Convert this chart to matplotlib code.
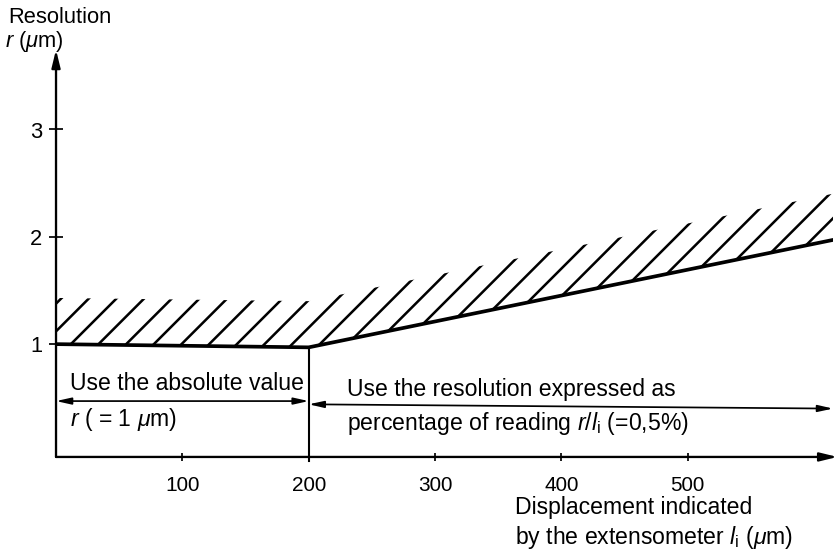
import matplotlib.pyplot as plt

# ---- values ----
disp_um = [0, 200, 615]          # displacement l_i (µm) along the boundary
res_um = [1.0, 0.97, 1.97]       # resolution r (µm) as drawn
hatch_depth = 0.43               # thickness of the hatched band (µm)

x_ticks = [100, 200, 300, 400, 500]
y_ticks = [1, 2, 3]

DPI = 83   # '/' hatch spacing = DPI/3 px -> ~28 px like the original

plt.rcParams["font.family"] = ["Liberation Sans", "DejaVu Sans"]
plt.rcParams["mathtext.fontset"] = "custom"
plt.rcParams["mathtext.rm"] = "Liberation Sans"
plt.rcParams["mathtext.it"] = "Liberation Sans:italic"
plt.rcParams["hatch.linewidth"] = 2.2
plt.rcParams["hatch.color"] = "black"

fig = plt.figure(figsize=(837.3 / DPI, 555.3 / DPI), dpi=DPI)
ax = fig.add_axes([56 / 837, 98 / 555, 777 / 837, 407 / 555])
ax.set_xlim(0, 615.2)
ax.set_ylim(-0.05, 3.74)
for s in ax.spines.values():
    s.set_visible(False)

# hatched band above the boundary
ax.fill_between(disp_um, res_um, [v + hatch_depth for v in res_um],
                facecolor="none", edgecolor="black", hatch="/", linewidth=0)
ax.plot(disp_um, res_um, color="black", lw=3.2, solid_capstyle="round", zorder=3)

# axes with arrow heads
ax_arrow = dict(arrowstyle="-|>,head_length=0.9,head_width=0.22", lw=2.0,
                color="black", shrinkA=0, shrinkB=0, mutation_scale=14)
ax.annotate("", xy=(0, 3.74), xytext=(0, -0.05), arrowprops=ax_arrow,
            annotation_clip=False)
ax.annotate("", xy=(618.5, -0.05), xytext=(0, -0.05), arrowprops=ax_arrow,
            annotation_clip=False)

# divider at 200 µm
ax.plot([disp_um[1], disp_um[1]], [res_um[1], -0.09], color="black", lw=1.8,
        clip_on=False)

# double arrows
dbl = dict(arrowstyle="<|-|>,head_length=0.9,head_width=0.2", lw=1.5,
           color="black", shrinkA=0, shrinkB=0, mutation_scale=12)
ax.annotate("", xy=(200, 0.47), xytext=(0, 0.47), arrowprops=dbl)
ax.annotate("", xy=(615, 0.40), xytext=(200, 0.44), arrowprops=dbl,
            annotation_clip=False)

txt = dict(fontsize=20, ha="left", va="center")
ax.text(11, 0.64, "Use the absolute value", **txt)
ax.text(11, 0.30, r"$r$ ( = 1 $\mu$m)", **txt)
ax.text(230, 0.58, "Use the resolution expressed as", **txt)
ax.text(230, 0.26, r"percentage of reading $r/l_{\rm i}$ (=0,5%)", **txt)

ax.set_xticks(x_ticks)
ax.set_yticks(y_ticks)
ax.tick_params(axis="x", direction="inout", length=7, width=1.5, pad=13,
               labelsize=18)
ax.tick_params(axis="y", direction="inout", length=12, width=1.5, pad=6,
               labelsize=19)

fig.text(8 / 837, 1 - 17 / 555, "Resolution", fontsize=19, ha="left", va="center")
fig.text(5 / 837, 1 - 41 / 555, r"$r$ ($\mu$m)", fontsize=19, ha="left", va="center")
fig.text(515 / 837, 1 - 507 / 555, "Displacement indicated", fontsize=20,
         ha="left", va="center")
fig.text(515 / 837, 1 - 537 / 555, r"by the extensometer $l_{\rm i}$ ($\mu$m)",
         fontsize=20, ha="left", va="center")

fig.savefig("out.png", dpi=DPI)
